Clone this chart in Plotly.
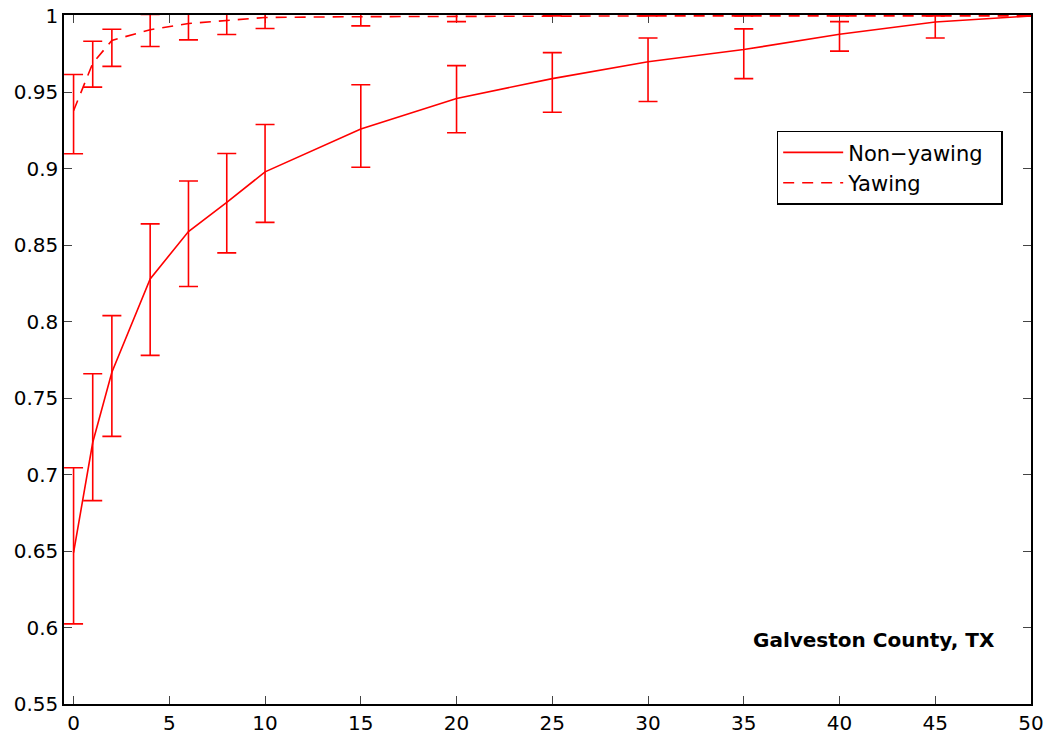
import plotly.graph_objects as go

x_non = [0, 1, 2, 4, 6, 8, 10, 15, 20, 25, 30, 35, 40, 45, 50]
non_mean = [0.649, 0.721, 0.767, 0.828, 0.859, 0.878, 0.898, 0.926, 0.946, 0.959, 0.970, 0.978, 0.988, 0.996, 1.0]
non_upper = [0.7045, 0.766, 0.804, 0.864, 0.892, 0.910, 0.929, 0.955, 0.9675, 0.976, 0.9856, 0.9915, 0.9963, 1.006, 1.0]
non_lower = [0.6024, 0.683, 0.725, 0.778, 0.823, 0.845, 0.865, 0.901, 0.9236, 0.937, 0.944, 0.959, 0.977, 0.9856, 1.0]

x_yaw = [0, 1, 2, 4, 6, 8, 10, 15, 20, 25, 30, 35, 40, 45, 50]
yaw_mean = [0.938, 0.969, 0.984, 0.991, 0.995, 0.997, 0.999, 0.9995, 0.9998, 1.0, 1.0, 1.0, 1.0, 1.0, 1.0]
yaw_upper = [0.9617, 0.9834, 0.9913, 1.001, 1.005, 1.007, 1.007, 1.006, 1.003, 1.0, 1.0, 1.0, 1.0, 1.0, 1.0]
yaw_lower = [0.9099, 0.9534, 0.967, 0.980, 0.9843, 0.9878, 0.9918, 0.9935, 0.9963, 1.0, 1.0, 1.0, 1.0, 1.0, 1.0]

x_ticks = [0, 5, 10, 15, 20, 25, 30, 35, 40, 45, 50]
y_ticks = [0.55, 0.6, 0.65, 0.7, 0.75, 0.8, 0.85, 0.9, 0.95, 1.0]
y_tick_labels = ["0.55", "0.6", "0.65", "0.7", "0.75", "0.8", "0.85", "0.9", "0.95", "1"]

RED = "#ff0000"
FONT = "DejaVu Sans, Liberation Sans, Arial, sans-serif"


def err(mean, up, lo):
    return (dict(type="data", symmetric=False,
                 array=[u - m for u, m in zip(up, mean)],
                 arrayminus=[m - l for m, l in zip(mean, lo)],
                 color=RED, thickness=1.6, width=9.5))


fig = go.Figure()
fig.add_trace(go.Scatter(x=x_non, y=non_mean, mode="lines", name="Non\u2212yawing\u00a0\u00a0",
                         line=dict(color=RED, width=1.6),
                         error_y=err(non_mean, non_upper, non_lower)))
fig.add_trace(go.Scatter(x=x_yaw, y=yaw_mean, mode="lines", name="Yawing",
                         line=dict(color=RED, width=1.6, dash="11px,8px"),
                         error_y=err(yaw_mean, yaw_upper, yaw_lower)))

axis_common = dict(showgrid=False, zeroline=False, showline=True, linecolor="black",
                   linewidth=1.5, mirror="ticks", ticks="inside", ticklen=8,
                   tickcolor="#444444", tickwidth=1, automargin=False,
                   ticklabeloverflow="allow", layer="below traces",
                   tickfont=dict(family=FONT, size=20, color="black"))

fig.update_xaxes(range=[-0.5, 50], tickvals=x_ticks, **axis_common)
fig.update_yaxes(range=[0.55, 1.0006], tickvals=y_ticks, ticktext=y_tick_labels, **axis_common)

fig.add_annotation(x=0.965, y=0.093, xref="paper", yref="paper", xanchor="right", yanchor="middle",
                   text="<b>Galveston County, TX</b>", showarrow=False,
                   font=dict(family=FONT, size=20, color="black"))

fig.update_layout(
    width=1048, height=740,
    margin=dict(l=64, r=17, t=15, b=36),
    plot_bgcolor="white", paper_bgcolor="white",
    showlegend=True,
    legend=dict(x=0.737, y=0.832, xanchor="left", yanchor="top",
                bordercolor="black", borderwidth=1.5, bgcolor="white",
                font=dict(family=FONT, size=21, color="black"),
                itemwidth=60, tracegroupgap=0),
)

fig.write_html("out.html", config={"displayModeBar": False},
               post_script="document.body.style.margin='0';document.body.style.overflow='hidden';")
